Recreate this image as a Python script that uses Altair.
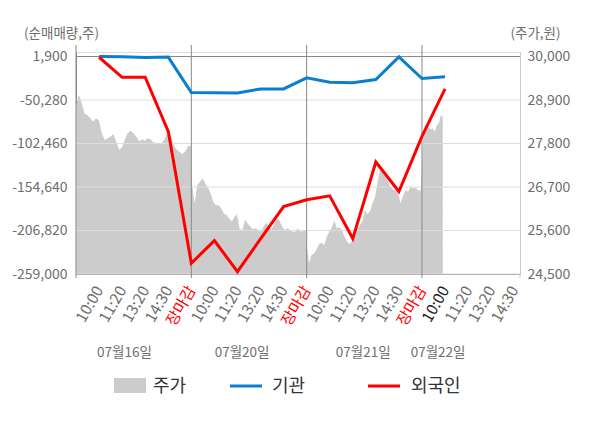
import json
import pandas as pd
import altair as alt

FONT = "Noto Sans CJK KR"

# ---------------- data ----------------
slot_labels = ["10:00", "11:20", "13:20", "14:30", "장마감",
               "10:00", "11:20", "13:20", "14:30", "장마감",
               "10:00", "11:20", "13:20", "14:30", "장마감",
               "10:00", "11:20", "13:20", "14:30"]
day_labels = ["07월16일", "07월20일", "07월21일", "07월22일"]
day_label_pos = [2.1, 7.2, 12.45, 15.7]
day_bounds = [0, 5, 10, 15]

line_pos = list(range(1, 17))
inst = [1900, 1500, 700, 1200, -41400, -41600, -41800, -37000, -37000,
        -23700, -29000, -29700, -25700, 1500, -24500, -22500]
foreign = [1000, -23000, -23000, -87900, -246100, -218900, -256200, -217000,
           -178100, -170000, -165200, -216500, -124700, -160000, -93900, -36900]

price_day1 = [28770, 29030, 28820, 28550, 28520, 28440, 28350, 28440, 28380, 28060,
              27890, 27930, 27970, 28040, 27850, 27640, 27700, 27910, 28060, 28120,
              28060, 27970, 27850, 27910, 27870, 27930, 27910, 27820, 27820, 27800,
              27820, 27930, 28100, 28010, 27760, 27650, 27590, 27530, 27590, 27740, 27740]
price_day2 = [26750, 26290, 26750, 26830, 26920, 26790, 26690, 26540, 26330, 26240,
              26240, 26160, 26030, 25990, 25910, 25820, 25950, 26020, 25630, 25610,
              25870, 25780, 25700, 25630, 25660, 25610, 25570, 25700, 25800, 25700,
              25630, 25780, 25910, 25850, 25700, 25610, 25660, 25610, 25570, 25570,
              25660, 25570, 25590, 25590]
price_day3 = [25280, 24770, 24980, 25020, 25120, 25260, 25290, 25230, 25440, 25570,
              25680, 25850, 25660, 25680, 25610, 25440, 25320, 25260, 25340, 25440,
              25630, 25740, 25820, 26120, 26020, 26080, 26290, 26450, 26830, 27130,
              27050, 26950, 26880, 26710, 26640, 26620, 26560, 26290, 26470, 26620,
              26580, 26710, 26670, 26690, 26610, 26610]
price_day4 = [27970, 28100, 28180, 28220, 28160, 28180, 28100, 28270, 28310, 28500, 28500]
price_days = [price_day1, price_day2, price_day3, price_day4]
# session span (in slot units) covered by each day's trades
price_spans = [(0.0, 4.98), (5.03, 9.97), (9.99, 14.95), (15.05, 15.9)]

left_ticks = [1900, -50280, -102460, -154640, -206820, -259000]
right_ticks = [30000, 28900, 27800, 26700, 25600, 24500]

legend_labels = ["주가", "기관", "외국인"]

# ---------------- tables ----------------
rows = []
for vals, (a, b) in zip(price_days, price_spans):
    n = len(vals)
    for k, v in enumerate(vals):
        rows.append({"pos": a + (b - a) * k / (n - 1), "price": v})
price_df = pd.DataFrame(rows)
inst_df = pd.DataFrame({"pos": line_pos, "val": inst})
foreign_df = pd.DataFrame({"pos": line_pos, "val": foreign})
grid_df = pd.DataFrame({"val": left_ticks[1:]})
ref_df = pd.DataFrame({"val": left_ticks[:1]})
bounds_df = pd.DataFrame({"pos": day_bounds})
dates_df = pd.DataFrame({"pos": day_label_pos, "label": day_labels})
one_df = pd.DataFrame({"k": [0]})

W, H = 444, 222
GRAY = "#6e6e6e"
BLUE = "#0a7fd0"
RED = "#ff0000"

x_scale = alt.Scale(domain=[0, 19.25], nice=False, zero=False)
x_axis = alt.Axis(
    values=list(range(1, 20)),
    labelExpr=json.dumps(slot_labels, ensure_ascii=False) + "[datum.value-1]",
    labelAngle=-60, labelAlign="right", labelBaseline="middle",
    labelColor={"condition": [{"test": "datum.value % 5 == 0", "value": RED},
                              {"test": "datum.value == 16", "value": "#222222"}],
                "value": GRAY},
    labelFontSize=15.5, labelPadding=13, labelOverlap=False, labelFont=FONT,
    ticks=False, grid=False, domainColor="#888888", title=None,
)
X = alt.X("pos:Q", scale=x_scale, axis=x_axis)

left_scale = alt.Scale(domain=[-259000, 7300], nice=False, zero=False)
minus = "\u2212"
left_axis = alt.Axis(
    orient="left", values=left_ticks, grid=False, ticks=False,
    labelExpr=f"replace(format(datum.value, ','), '{minus}', '-')",
    domainColor="#888888", labelColor=GRAY, labelFontSize=14, labelPadding=9,
    labelFont=FONT,
    title="(순매매량,주)", titleAngle=0, titleAlign="center", titleBaseline="middle",
    titleX=-15, titleY=-19, titleFontSize=13.5, titleFontWeight="normal",
    titleColor=GRAY, titleFont=FONT,
)
YL = alt.Y("val:Q", scale=left_scale, axis=left_axis)

right_scale = alt.Scale(domain=[24500, 30114], nice=False, zero=False)
right_axis = alt.Axis(
    orient="right", values=right_ticks, grid=False, ticks=False,
    labelExpr="format(datum.value, ',')",
    domainColor="#cccccc", labelColor=GRAY, labelFontSize=14, labelPadding=7,
    labelFont=FONT,
    title="(주가,원)", titleAngle=0, titleAlign="center", titleBaseline="middle",
    titleX=15, titleY=-19, titleFontSize=13.5, titleFontWeight="normal",
    titleColor=GRAY, titleFont=FONT,
)

# ---------------- layers ----------------
area = alt.Chart(price_df).mark_area(color="#cccccc", opacity=1, clip=True).encode(
    x=X, y=alt.Y("price:Q", scale=right_scale, axis=right_axis), y2=alt.value(H)
)

vlines = alt.Chart(bounds_df).mark_rule(color="#888888", strokeWidth=1).encode(
    x=X, y=alt.value(-7), y2=alt.value(H + 4)
)
grid = alt.Chart(grid_df).mark_rule(color="#dddddd", strokeWidth=1).encode(y=YL)
ref = alt.Chart(ref_df).mark_rule(color="#888888", strokeWidth=1).encode(y=YL)
blue = alt.Chart(inst_df).mark_line(color=BLUE, strokeWidth=3).encode(x=X, y=YL)
red = alt.Chart(foreign_df).mark_line(color=RED, strokeWidth=3).encode(x=X, y=YL)

left_layer = alt.layer(grid, vlines, ref, blue, red)

end_tick = alt.Chart(one_df).mark_rule(color="#cccccc").encode(
    x=alt.value(W), y=alt.value(H), y2=alt.value(H + 4)
)

dates = alt.Chart(dates_df).mark_text(
    font=FONT, fontSize=13.5, color=GRAY, baseline="middle", align="center"
).encode(x=X, y=alt.value(H + 79), text="label:N")

leg_rect = alt.Chart(one_df).mark_rect(color="#cccccc").encode(
    x=alt.value(38), x2=alt.value(70), y=alt.value(326), y2=alt.value(341)
)
leg_blue = alt.Chart(one_df).mark_rule(color=BLUE, strokeWidth=3).encode(
    x=alt.value(154), x2=alt.value(186), y=alt.value(334)
)
leg_red = alt.Chart(one_df).mark_rule(color=RED, strokeWidth=3).encode(
    x=alt.value(292), x2=alt.value(324), y=alt.value(334)
)
leg_texts = []
for lbl, xv in zip(legend_labels, [77, 196, 335]):
    leg_texts.append(
        alt.Chart(pd.DataFrame({"t": [lbl]})).mark_text(
            font=FONT, fontSize=18, color="#333333", align="left", baseline="middle"
        ).encode(x=alt.value(xv), y=alt.value(334.5), text="t:N")
    )

chart = alt.layer(
    area, left_layer, end_tick, dates, leg_rect, leg_blue, leg_red, *leg_texts
).resolve_scale(y="independent").properties(
    width=W, height=H,
    autosize=alt.AutoSizeParams(type="none"),
    padding={"left": 68, "top": 44, "right": 72, "bottom": 140},
    background="white",
).configure_view(fill="#f4f4f4", stroke=None).configure(font=FONT)

chart.save("out.html", embed_options={"renderer": "svg", "actions": False})
